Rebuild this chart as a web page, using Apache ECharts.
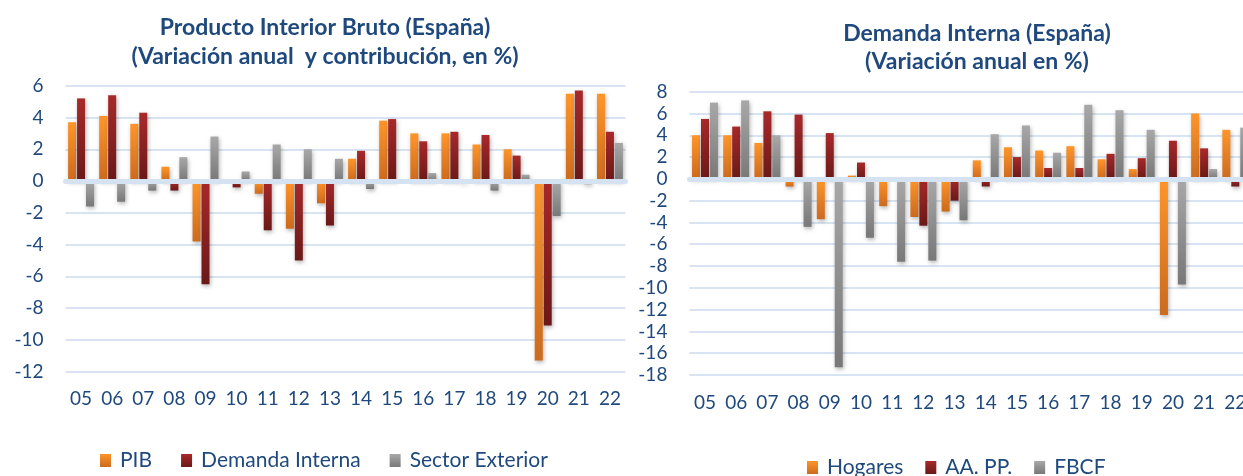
<!DOCTYPE html>
<html>
<head>
<meta charset="utf-8">
<script src="https://cdn.jsdelivr.net/npm/echarts@6/dist/echarts.min.js"></script>
<style>
html,body{margin:0;padding:0;background:#fff;overflow:hidden;width:1243px;height:476px;}
#c{width:1262px;height:476px;}
</style>
</head>
<body>
<div id="c"></div>
<script>
var years = ['05','06','07','08','09','10','11','12','13','14','15','16','17','18','19','20','21','22'];
var pib = [3.7, 4.1, 3.6, 0.9, -3.8, 0.0, -0.8, -3.0, -1.4, 1.4, 3.8, 3.0, 3.0, 2.3, 2.0, -11.3, 5.5, 5.5];
var demandaInterna = [5.2, 5.4, 4.3, -0.6, -6.5, -0.4, -3.1, -5.0, -2.8, 1.9, 3.9, 2.5, 3.1, 2.9, 1.6, -9.1, 5.7, 3.1];
var sectorExterior = [-1.6, -1.3, -0.6, 1.5, 2.8, 0.6, 2.3, 2.0, 1.4, -0.5, 0.0, 0.5, -0.1, -0.6, 0.4, -2.2, -0.2, 2.4];
var hogares = [4.0, 4.0, 3.3, -0.7, -3.7, 0.3, -2.5, -3.5, -3.0, 1.7, 2.9, 2.6, 3.0, 1.8, 0.9, -12.5, 6.0, 4.5];
var aapp = [5.5, 4.8, 6.2, 5.9, 4.2, 1.5, 0.0, -4.3, -2.0, -0.7, 2.0, 1.0, 1.0, 2.3, 1.9, 3.5, 2.8, -0.7];
var fbcf = [7.0, 7.2, 4.0, -4.4, -17.3, -5.4, -7.6, -7.5, -3.8, 4.1, 4.9, 2.4, 6.8, 6.3, 4.5, -9.7, 0.9, 4.7];
var leftTicks = {min: -12, max: 6, interval: 2};
var rightTicks = {min: -18, max: 8, interval: 2};

var chart = echarts.init(document.getElementById('c'));
var FONT = 'Lato';
var BLUE = '#1F497D';
function grad(a, b) {
  return new echarts.graphic.LinearGradient(0, 0, 0, 1, [{offset: 0, color: a}, {offset: 1, color: b}]);
}
var cOrange = grad('#FF9529', '#CC6A1E');
var cRed = grad('#A8292A', '#6A1918');
var cGray = grad('#A8A8A8', '#787878');

function barSeries(name, data, color, gi) {
  return {
    name: name, type: 'bar', data: data,
    xAxisIndex: gi * 2, yAxisIndex: gi,
    barWidth: 8, barGap: '12%',
    itemStyle: {color: color, shadowBlur: 4, shadowColor: 'rgba(0,0,0,0.3)', shadowOffsetX: 1, shadowOffsetY: 2},
    emphasis: {disabled: true},
    z: 2
  };
}
function labelAxis(gi, m) {
  return {
    type: 'category', data: years, gridIndex: gi,
    axisLine: {show: false, onZero: false}, axisTick: {show: false},
    axisLabel: {color: BLUE, fontFamily: FONT, fontSize: 19, margin: m}
  };
}
function zeroAxis(gi) {
  return {
    type: 'category', data: years, gridIndex: gi,
    axisLine: {show: true, onZero: true, lineStyle: {color: '#D5E2F1', width: 5}},
    axisTick: {show: false}, axisLabel: {show: false}, z: 10
  };
}
function valAxis(gi, t) {
  return {
    type: 'value', gridIndex: gi, min: t.min, max: t.max, interval: t.interval,
    axisLine: {show: false}, axisTick: {show: false},
    axisLabel: {color: BLUE, fontFamily: FONT, fontSize: 19, margin: 22},
    splitLine: {lineStyle: {color: '#D9E4F2', width: 2}}
  };
}
var legendText = {color: BLUE, fontFamily: FONT, fontSize: 21, padding: [0, 0, 0, 4]};

chart.setOption({
  animation: false,
  backgroundColor: '#ffffff',
  title: [
    {text: 'Producto Interior Bruto (España)\n(Variación anual  y contribución, en %)',
     left: 320, top: 8, textAlign: 'center',
     textStyle: {color: BLUE, fontFamily: FONT, fontWeight: 'bold', fontSize: 23, lineHeight: 29}},
    {text: 'Demanda Interna (España)\n(Variación anual en %)',
     left: 972, top: 15, textAlign: 'center',
     textStyle: {color: BLUE, fontFamily: FONT, fontWeight: 'bold', fontSize: 23, lineHeight: 28}}
  ],
  legend: [
    {data: ['PIB', 'Demanda Interna', 'Sector Exterior'], left: 95, top: 445,
     itemWidth: 11, itemHeight: 13, itemGap: 29, icon: 'rect', textStyle: legendText},
    {data: ['Hogares', 'AA. PP.', 'FBCF'], left: 802, top: 452,
     itemWidth: 11, itemHeight: 13, itemGap: 22, icon: 'rect', textStyle: legendText}
  ],
  grid: [
    {left: 65.5, top: 85.7, width: 560, height: 286},
    {left: 689.4, top: 91.7, width: 561.5, height: 283.3}
  ],
  xAxis: [labelAxis(0, 18), zeroAxis(0), labelAxis(1, 18), zeroAxis(1)],
  yAxis: [valAxis(0, leftTicks), valAxis(1, rightTicks)],
  series: [
    barSeries('PIB', pib, cOrange, 0),
    barSeries('Demanda Interna', demandaInterna, cRed, 0),
    barSeries('Sector Exterior', sectorExterior, cGray, 0),
    barSeries('Hogares', hogares, cOrange, 1),
    barSeries('AA. PP.', aapp, cRed, 1),
    barSeries('FBCF', fbcf, cGray, 1)
  ]
});
</script>
</body>
</html>
